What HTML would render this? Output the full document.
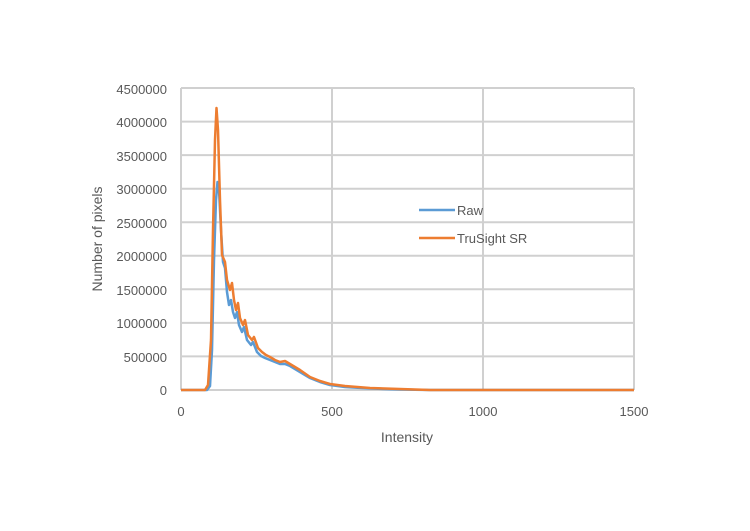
<!DOCTYPE html>
<html><head><meta charset="utf-8"><style>
body{margin:0;background:#fff;}
svg text{font-family:"Liberation Sans",sans-serif;fill:#595959;}
</style></head><body>
<svg width="750" height="526" viewBox="0 0 750 526" xmlns="http://www.w3.org/2000/svg">
<rect width="750" height="526" fill="#fff"/>
<g stroke="#d0d0d0" stroke-width="2" fill="none">
<line x1="181" y1="88" x2="634" y2="88"/>
<line x1="181" y1="121.6" x2="634" y2="121.6"/>
<line x1="181" y1="155.1" x2="634" y2="155.1"/>
<line x1="181" y1="188.7" x2="634" y2="188.7"/>
<line x1="181" y1="222.2" x2="634" y2="222.2"/>
<line x1="181" y1="255.8" x2="634" y2="255.8"/>
<line x1="181" y1="289.3" x2="634" y2="289.3"/>
<line x1="181" y1="322.9" x2="634" y2="322.9"/>
<line x1="181" y1="356.4" x2="634" y2="356.4"/>
<line x1="181" y1="390" x2="634" y2="390"/>
<line x1="181" y1="88" x2="181" y2="390"/>
<line x1="332" y1="88" x2="332" y2="390"/>
<line x1="483" y1="88" x2="483" y2="390"/>
<line x1="634" y1="88" x2="634" y2="390"/>
</g>
<g font-size="13" text-anchor="end">
<text x="167" y="94">4500000</text>
<text x="167" y="127">4000000</text>
<text x="167" y="161">3500000</text>
<text x="167" y="194">3000000</text>
<text x="167" y="228">2500000</text>
<text x="167" y="261">2000000</text>
<text x="167" y="295">1500000</text>
<text x="167" y="328">1000000</text>
<text x="167" y="362">500000</text>
<text x="167" y="395">0</text>
</g>
<g font-size="13" text-anchor="middle">
<text x="181" y="416">0</text>
<text x="332" y="416">500</text>
<text x="483" y="416">1000</text>
<text x="634" y="416">1500</text>
<text x="407" y="442" font-size="14">Intensity</text>
<text transform="translate(102,239) rotate(-90)" font-size="14">Number of pixels</text>
</g>
<polyline fill="none" stroke="#5b9bd5" stroke-width="2.5" stroke-linejoin="round" points="181,390 207,390 210,386 212,350 214,260 216,200 217.5,182 219,190 221,230 223,262 225,268 227,292 229,305 231,300 233,312 235,318 237,312 239,325 242,332 244,327 247,340 251,345 253,342 257,352 261,356 265,358 270,360 275,362 280,364 285,364 290,366 295,369 300,372 310,378 320,382 330,385 345,387 370,388.5 400,389.5 430,390 634,390"/>
<polyline fill="none" stroke="#ed7d31" stroke-width="2.5" stroke-linejoin="round" points="181,390 205,390 208,385 211,340 213,230 215,140 216.5,108 218,130 220,200 222,255 225,262 227,280 230,290 232,283 234,300 236,310 238,303 240,318 243,325 245,320 248,335 252,340 254,337 258,348 262,352 266,355 270,357 275,360 280,362 285,361 290,364 295,367 300,370 310,377 320,381 330,384 345,386 370,388 400,389 430,390 634,390"/>
<line x1="419" y1="210" x2="455" y2="210" stroke="#5b9bd5" stroke-width="2.5"/>
<line x1="419" y1="238" x2="455" y2="238" stroke="#ed7d31" stroke-width="2.5"/>
<text x="457" y="215" font-size="13">Raw</text>
<text x="457" y="243" font-size="13">TruSight SR</text>
</svg>
</body></html>
